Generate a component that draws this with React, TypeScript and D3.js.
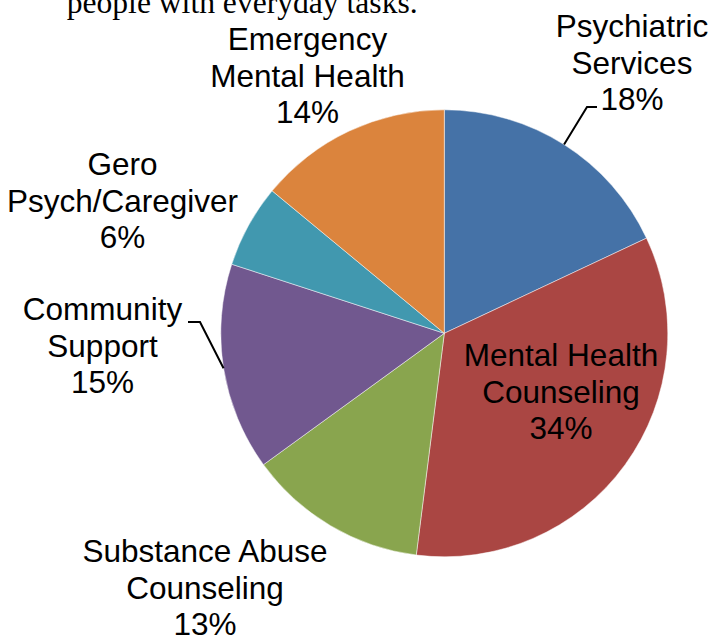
import React from "react";
import * as d3 from "d3";

const categories = [
  "Psychiatric Services",
  "Mental Health Counseling",
  "Substance Abuse Counseling",
  "Community Support",
  "Gero Psych/Caregiver",
  "Emergency Mental Health",
];
const shares = [18, 34, 13, 15, 6, 14];
const labelLines = [
  ["Psychiatric", "Services"],
  ["Mental Health", "Counseling"],
  ["Substance Abuse", "Counseling"],
  ["Community", "Support"],
  ["Gero", "Psych/Caregiver"],
  ["Emergency", "Mental Health"],
];
const sliceColors = ["#4572A7", "#AA4643", "#89A54E", "#71588F", "#4198AF", "#DB843D"];
const headerText = "people with everyday tasks.";

// layout (label anchors: center x, first baseline y) and leader elbows
const labelAnchors: [number, number][] = [
  [632, 37],
  [561, 366],
  [205, 562],
  [102.5, 320],
  [122.5, 175],
  [307.5, 50],
];
const leaders: ({ elbow: [number, number]; end: [number, number] } | null)[] = [
  { elbow: [587, 107], end: [597, 107] },
  null,
  null,
  { elbow: [200, 322], end: [188, 322] },
  null,
  null,
];

const W = 713;
const H = 639;
const CX = 444.3;
const CY = 333.3;
const R = 223.5;
const FONT = 31.5;
const LH = 36.5;

export default function App() {
  const data = shares.map((v, i) => ({ v, i }));
  const pie = d3
    .pie<{ v: number; i: number }>()
    .value((d) => d.v)
    .sort(null)
    .startAngle(0)
    .endAngle(2 * Math.PI);
  const arcs = pie(data);
  const arc = d3
    .arc<d3.PieArcDatum<{ v: number; i: number }>>()
    .innerRadius(0)
    .outerRadius(R);

  return (
    <svg
      width={W}
      height={H}
      style={{ position: "absolute", left: 0, top: 0, background: "#fff" }}
    >
      <text
        x={66.7}
        y={12.5}
        fontFamily="'Liberation Serif', 'Times New Roman', serif"
        fontSize={31.6}
        fill="#000"
      >
        {headerText}
      </text>
      <g transform={`translate(${CX},${CY})`}>
        {arcs.map((a) => (
          <path
            key={categories[a.data.i]}
            d={arc(a) || ""}
            fill={sliceColors[a.data.i]}
            stroke="#ffffff"
            strokeOpacity={0.6}
            strokeWidth={0.8}
          />
        ))}
      </g>
      {arcs.map((a) => {
        const ld = leaders[a.data.i];
        if (!ld) return null;
        const mid = (a.startAngle + a.endAngle) / 2;
        const sx = CX + R * Math.sin(mid);
        const sy = CY - R * Math.cos(mid);
        const line = d3.line()([
          [sx, sy],
          ld.elbow,
          ld.end,
        ]);
        return (
          <path
            key={"ld" + a.data.i}
            d={line || ""}
            fill="none"
            stroke="#000"
            strokeWidth={2}
          />
        );
      })}
      {arcs.map((a) => {
        const i = a.data.i;
        const [x, y] = labelAnchors[i];
        const lines = [...labelLines[i], `${shares[i]}%`];
        return (
          <text
            key={"lb" + i}
            textAnchor="middle"
            fontFamily="'Liberation Sans', Arial, sans-serif"
            fontSize={FONT}
            fill="#000"
          >
            {lines.map((t, k) => (
              <tspan key={k} x={x} y={y + k * LH}>
                {t}
              </tspan>
            ))}
          </text>
        );
      })}
    </svg>
  );
}
